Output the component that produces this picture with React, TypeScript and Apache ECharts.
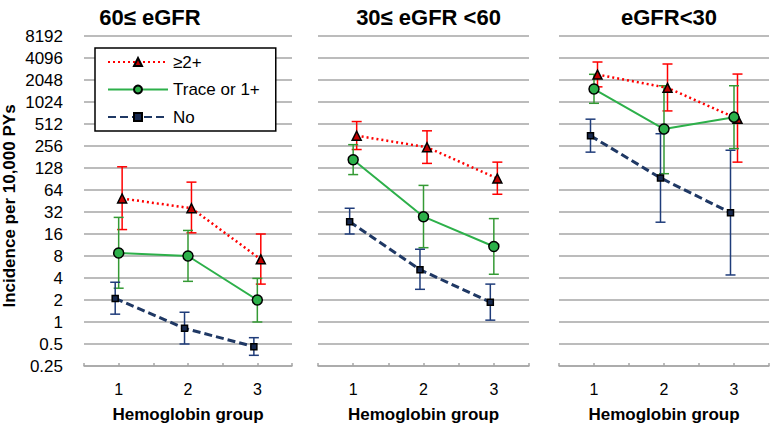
import React, { useEffect, useRef } from 'react';
import * as echarts from 'echarts';

// ---------- data ----------
const hemoglobinGroups = ['1', '2', '3'];
const panelTitles = ['60≤ eGFR', '30≤ eGFR <60', 'eGFR<30'];
const seriesNames = ['≥2+', 'Trace or 1+', 'No'];
const yTickLabels = ['0.25', '0.5', '1', '2', '4', '8', '16', '32', '64', '128', '256', '512', '1024', '2048', '4096', '8192'];

// Panel 1: 60 ≤ eGFR
const p1Pos2 = [49, 36, 7.2];
const p1Pos2Lo = [18.4, 16.6, 3.3];
const p1Pos2Hi = [133, 82, 16];
const p1Trace = [8.8, 8.0, 2.0];
const p1TraceLo = [2.9, 3.6, 1.0];
const p1TraceHi = [27, 17.9, 3.95];
const p1No = [2.1, 0.82, 0.46];
const p1NoLo = [1.28, 0.5, 0.35];
const p1NoHi = [3.5, 1.36, 0.61];

// Panel 2: 30 ≤ eGFR < 60
const p2Pos2 = [354, 246, 92];
const p2Pos2Lo = [229, 148, 56];
const p2Pos2Hi = [553, 413, 154];
const p2Trace = [166, 27.6, 10.8];
const p2TraceLo = [104, 10.4, 4.5];
const p2TraceHi = [267, 74, 26];
const p2No = [23.6, 5.2, 1.87];
const p2NoLo = [16, 2.8, 1.06];
const p2NoHi = [36, 9.9, 3.3];

// Panel 3: eGFR < 30
const p3Pos2 = [2430, 1600, 602];
const p3Pos2Lo = [1650, 773, 154];
const p3Pos2Hi = [3610, 3390, 2470];
const p3Trace = [1540, 437, 635];
const p3TraceLo = [983, 107, 236];
const p3TraceHi = [2450, 1710, 1710];
const p3No = [354, 93.5, 31.3];
const p3NoLo = [211, 23.2, 4.4];
const p3NoHi = [596, 377, 224];

const panelData = [
  [[p1Pos2, p1Pos2Lo, p1Pos2Hi], [p1Trace, p1TraceLo, p1TraceHi], [p1No, p1NoLo, p1NoHi]],
  [[p2Pos2, p2Pos2Lo, p2Pos2Hi], [p2Trace, p2TraceLo, p2TraceHi], [p2No, p2NoLo, p2NoHi]],
  [[p3Pos2, p3Pos2Lo, p3Pos2Hi], [p3Trace, p3TraceLo, p3TraceHi], [p3No, p3NoLo, p3NoHi]],
];

// ---------- styles ----------
const FONT = 'Liberation Sans, Arial, sans-serif';
const GRID_COLOR = '#A6A6A6';
const seriesStyles = [
  { dodge: 0.1, symbol: 'triangle', symbolSize: 9, fill: '#C00000', line: '#FF0000', lineType: [2, 3], lineWidth: 2.5, err: '#FF0000' },
  { dodge: 0, symbol: 'circle', symbolSize: 10, fill: '#2DB04A', line: '#2DB04A', lineType: 'solid', lineWidth: 2, err: '#349A34' },
  { dodge: -0.1, symbol: 'rect', symbolSize: 6, fill: '#17294F', line: '#1F3864', lineType: [8, 4], lineWidth: 3, err: '#1F3C7A' },
];
const grids = [
  { left: 84, right: 478, top: 36, bottom: 59 },
  { left: 318, right: 241, top: 36, bottom: 59 },
  { left: 559, right: 1, top: 36, bottom: 59 },
];
const titleCenters = [145, 423.5, 664];

function buildOption() {
  const xAxis: any[] = [];
  const yAxis: any[] = [];
  const series: any[] = [];
  const title: any[] = [];

  panelTitles.forEach((t, i) => {
    title.push({
      text: t,
      left: titleCenters[i],
      top: 1,
      textAlign: 'center',
      textStyle: { fontSize: 22, fontWeight: 'bold', color: '#000', fontFamily: FONT },
    });
    xAxis.push({
      type: 'category',
      gridIndex: i,
      data: hemoglobinGroups,
      boundaryGap: true,
      position: 'bottom',
      axisLine: { lineStyle: { color: GRID_COLOR, width: 1.5 } },
      axisTick: { length: 5, lineStyle: { color: GRID_COLOR, width: 1.5 } },
      axisLabel: { fontSize: 16, color: '#000', margin: 15, fontFamily: FONT },
      name: 'Hemoglobin group',
      nameLocation: 'middle',
      nameGap: 40,
      nameTextStyle: { fontSize: 17, fontWeight: 'bold', color: '#000', fontFamily: FONT },
      splitLine: { show: false },
    });
    xAxis.push({
      type: 'value',
      gridIndex: i,
      min: 0,
      max: hemoglobinGroups.length * 2,
      interval: 1,
      position: 'bottom',
      axisLine: { show: false },
      axisTick: { show: true, inside: true, length: 3, lineStyle: { color: GRID_COLOR, width: 1.5 } },
      axisLabel: { show: false },
      splitLine: { show: false },
    });
    yAxis.push({
      type: 'log',
      logBase: 2,
      gridIndex: i,
      min: 0.25,
      max: 8192,
      interval: 1,
      axisLine: { show: false },
      axisTick: { show: false },
      splitLine: { show: true, lineStyle: { color: GRID_COLOR, width: 1.5 } },
      axisLabel: {
        show: i === 0,
        fontSize: 17,
        color: '#000',
        margin: 21,
        fontFamily: FONT,
        formatter: (v: number) => {
          const idx = Math.round(Math.log2(v)) + 2;
          return yTickLabels[idx] ?? String(v);
        },
      },
      name: i === 0 ? 'Incidence per 10,000 PYs' : '',
      nameLocation: 'middle',
      nameGap: 66,
      nameTextStyle: { fontSize: 17, fontWeight: 'bold', color: '#000', fontFamily: FONT, padding: [0, 10, 0, 0] },
    });

    panelData[i].forEach((triple, s) => {
      const [mid, lo, hi] = triple;
      const st = seriesStyles[s];
      series.push({
        type: 'custom',
        xAxisIndex: 2 * i + 1,
        yAxisIndex: i,
        silent: true,
        z: 2,
        encode: { x: 0, y: [1, 2] },
        data: mid.map((_, k) => [2 * k + 1 + st.dodge, lo[k], hi[k]]),
        renderItem: (params: any, api: any) => {
          const x = api.value(0);
          const pLo = api.coord([x, api.value(1)]);
          const pHi = api.coord([x, api.value(2)]);
          const cap = 5;
          const style = { stroke: st.err, lineWidth: 1.5 };
          return {
            type: 'group',
            children: [
              { type: 'line', shape: { x1: pLo[0], y1: pLo[1], x2: pHi[0], y2: pHi[1] }, style },
              { type: 'line', shape: { x1: pLo[0] - cap, y1: pLo[1], x2: pLo[0] + cap, y2: pLo[1] }, style },
              { type: 'line', shape: { x1: pHi[0] - cap, y1: pHi[1], x2: pHi[0] + cap, y2: pHi[1] }, style },
            ],
          };
        },
      });
    });
    panelData[i].forEach((triple, s) => {
      const [mid] = triple;
      const st = seriesStyles[s];
      series.push({
        name: seriesNames[s],
        type: 'line',
        xAxisIndex: 2 * i + 1,
        yAxisIndex: i,
        z: 3,
        data: mid.map((v, k) => [2 * k + 1 + st.dodge, v]),
        symbol: st.symbol,
        symbolSize: st.symbolSize,
        showAllSymbol: true,
        lineStyle: { color: st.line, width: st.lineWidth, type: st.lineType },
        itemStyle: { color: st.fill, borderColor: '#000', borderWidth: 1.5 },
        emphasis: { disabled: true },
      });
    });
  });

  return {
    animation: false,
    textStyle: { fontFamily: FONT },
    backgroundColor: '#fff',
    title,
    legend: {
      data: seriesNames,
      orient: 'vertical',
      left: 95,
      top: 48,
      padding: [5, 16, 5, 12],
      itemGap: 9.5,
      itemWidth: 60,
      itemHeight: 10,
      backgroundColor: '#fff',
      borderColor: '#000',
      borderWidth: 1.5,
      textStyle: { fontSize: 17, color: '#000', lineHeight: 18, fontFamily: FONT },
      z: 10,
    },
    grid: grids,
    xAxis,
    yAxis,
    series,
  };
}

export default function App() {
  const ref = useRef<HTMLDivElement>(null);
  useEffect(() => {
    if (!ref.current) return;
    const chart = echarts.init(ref.current, undefined, { renderer: 'svg' });
    chart.setOption(buildOption() as any);
    return () => chart.dispose();
  }, []);
  return (
    <div
      ref={ref}
      style={{ position: 'fixed', left: 0, top: 0, width: 770, height: 428 }}
    />
  );
}
